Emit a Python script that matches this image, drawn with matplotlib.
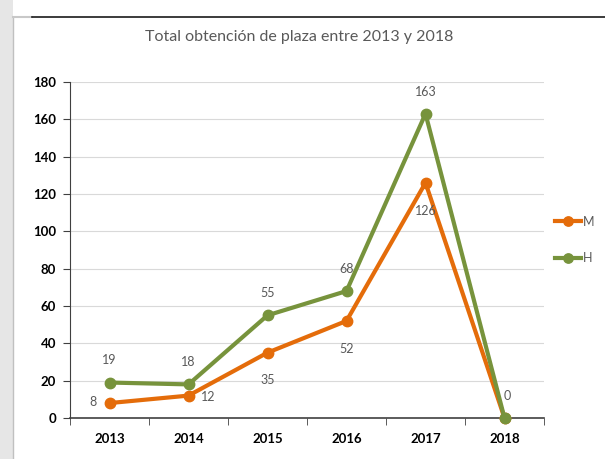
import matplotlib
matplotlib.use("Agg")
from matplotlib import pyplot as plt
from matplotlib.patches import Rectangle
from matplotlib.lines import Line2D

plt.rcParams['font.family'] = ['Lato', 'DejaVu Sans']

# data
years = ['2013', '2014', '2015', '2016', '2017', '2018']
mujeres = [8, 12, 35, 52, 126, 0]
hombres = [19, 18, 55, 68, 163, 0]

orange = '#E46C0A'
green = '#77933C'
gray_txt = '#595959'

fig = plt.figure(figsize=(6.05, 4.59), dpi=100)

# screenshot frame: gray strip on the left, dark rule at the top
fig.patches.append(Rectangle((0, 0), 13 / 605, 1, transform=fig.transFigure,
                             facecolor='#e6e6e6', edgecolor='none', zorder=0))
fig.add_artist(Line2D([13 / 605, 13 / 605], [0, 1 - 17 / 459], color='#c0c0c0', lw=1))
fig.add_artist(Line2D([13 / 605, 32 / 605], [1 - 17 / 459, 1 - 17 / 459], color='#c8c8c8', lw=1.5))
fig.add_artist(Line2D([32 / 605, 1], [1 - 17 / 459, 1 - 17 / 459], color='#1a1a1a', lw=1.2))

ax = fig.add_axes([70 / 605, 1 - 418 / 459, 474 / 605, 336 / 459])

x = list(range(len(years)))
ax.plot(x, mujeres, color=orange, lw=3, marker='o', ms=7.5, label='M', zorder=3, clip_on=False)
ax.plot(x, hombres, color=green, lw=3, marker='o', ms=7.5, label='H', zorder=3, clip_on=False)

ax.set_xlim(-0.5, len(years) - 0.5)
ax.set_ylim(0, 180)
ax.set_yticks(range(0, 181, 20))
ax.set_xticks(x)
ax.set_xticklabels(years)
ax.set_xticks([i - 0.5 for i in range(len(years) + 1)], minor=True)
ax.tick_params(axis='x', which='major', length=0, pad=11)
ax.tick_params(axis='x', which='minor', length=5, direction='out', color='#404040')
ax.tick_params(axis='y', length=5, direction='out', color='#404040', pad=5)
for lab in ax.get_xticklabels() + ax.get_yticklabels():
    lab.set_fontweight('bold')
    lab.set_fontsize(9.5)
    lab.set_color('black')

ax.grid(axis='y', color='#d9d9d9', lw=0.8)
ax.set_axisbelow(True)
for side in ['top', 'right']:
    ax.spines[side].set_visible(False)
ax.spines['left'].set_color('#404040')
ax.spines['bottom'].set_color('#404040')
ax.spines['bottom'].set_linewidth(1.2)

# data labels
m_off = [(-12, 1), (14, -1), (0, -20), (0, -20), (0, -20), None]
h_off = [(0, 16), (0, 16), (0, 16), (0, 16), (0, 16), (2, 16)]
for i in x:
    if m_off[i] is not None:
        ax.annotate(str(mujeres[i]), (i, mujeres[i]), xytext=m_off[i], textcoords='offset points',
                    ha='center', va='center', fontsize=9, color=gray_txt)
    ax.annotate(str(hombres[i]), (i, hombres[i]), xytext=h_off[i], textcoords='offset points',
                ha='center', va='center', fontsize=9, color=gray_txt)

fig.text(299 / 605, 1 - 37 / 459, 'Total obtención de plaza entre 2013 y 2018',
         ha='center', va='center', fontsize=11.5, color=gray_txt)

leg = fig.legend(loc='center left', bbox_to_anchor=(555 / 605, 1 - 240 / 459), frameon=False,
                 fontsize=9, handlelength=2.1, handletextpad=0.1, labelspacing=2.0,
                 borderpad=0, borderaxespad=0, markerscale=0.9)
for t in leg.get_texts():
    t.set_color(gray_txt)

fig.savefig('out.png', dpi=100)
